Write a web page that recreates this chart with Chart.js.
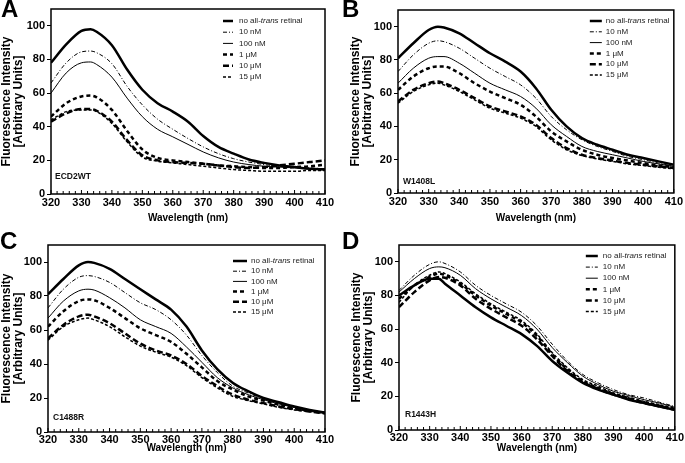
<!DOCTYPE html>
<html>
<head>
<meta charset="utf-8">
<script src="https://cdn.jsdelivr.net/npm/chart.js"></script>
<style>
  body { margin: 0; background: #fff; width: 685px; height: 463px; position: relative; overflow: hidden;
         font-family: "Liberation Sans", Arial, sans-serif; }
  .panel { position: absolute; }
  .letter { position: absolute; font-weight: bold; font-size: 24px; line-height: 24px; color: #000; }
</style>
</head>
<body>
<div class="panel" style="left:0;top:0;width:340px;height:232px"><canvas id="chartA"></canvas></div>
<div class="panel" style="left:340px;top:0;width:345px;height:232px"><canvas id="chartB"></canvas></div>
<div class="panel" style="left:0;top:232px;width:340px;height:231px"><canvas id="chartC"></canvas></div>
<div class="panel" style="left:340px;top:232px;width:345px;height:231px"><canvas id="chartD"></canvas></div>
<div class="letter" style="left:1px;top:-3px">A</div>
<div class="letter" style="left:342px;top:-3px">B</div>
<div class="letter" style="left:0px;top:229px">C</div>
<div class="letter" style="left:342px;top:229px">D</div>
<script>
// wavelengths (nm) shared by every spectrum
const wavelengths = [320, 325, 330, 333, 335, 340, 345, 350, 355, 360, 365, 370, 375, 380, 385, 390, 395, 400, 405, 410];
const legendLabels = ["no all-trans retinal", "10 nM", "100 nM", "1 μM", "10 μM", "15 μM"];
const sampleNames = ["ECD2WT", "W1408L", "C1488R", "R1443H"];

// A - ECD2WT
const aNone = [78, 89, 97, 98, 96.5, 88.5, 74, 62, 54, 49, 43, 34.5, 28, 24, 20.5, 18.5, 17, 16, 15, 14.5];
const a10nM = [66, 78, 84.5, 85, 84, 77.5, 64, 53, 44.5, 38.5, 33, 28, 24, 21, 19, 17.5, 16.5, 16, 15.5, 15];
const a100nM = [60, 72, 78, 78.5, 77, 69.5, 57, 46, 38.5, 34, 29.5, 25, 21.5, 19, 17.5, 16.5, 16, 15.5, 15, 15];
const a1uM = [46, 54, 58, 58.5, 57.5, 50, 37.5, 26.5, 21.5, 20, 19, 18, 17, 16.5, 16, 15.5, 15.5, 16, 16.5, 17.5];
const a10uM = [43, 48, 50.5, 50.5, 49.5, 43, 32, 23, 20, 19, 18.5, 18, 17, 16, 15.5, 16, 17, 18, 19, 20];
const a15uM = [44, 49, 50, 50, 49, 42, 31, 22, 19.5, 18.5, 17.5, 16.5, 15.5, 14.5, 14, 13.5, 13.5, 13.5, 14, 14];

// B - W1408L
const bNone = [81, 90, 98, 100, 99.5, 96, 90, 84, 79, 73, 63, 50, 40, 33, 29, 26, 23, 21, 19, 17];
const b10nM = [73, 83, 90, 91.5, 91, 87, 81, 75, 70, 65, 57, 46, 38, 32, 28, 25, 22, 20, 18, 16];
const b100nM = [66, 75, 81, 82, 82, 78, 72, 66, 62, 58, 51, 41, 34, 28, 25, 23, 21, 19, 17.5, 16];
const b1uM = [62, 70, 75, 76, 76, 72, 66, 61, 57, 53, 46, 37, 31, 26, 23, 21, 19.5, 18, 16.5, 15.5];
const b10uM = [55, 62, 66, 67, 66, 62, 57, 52, 49, 46, 41, 33, 27, 23, 21, 19.5, 18, 17, 16, 15];
const b15uM = [54, 61, 65, 66, 65, 61, 56, 51, 48, 45, 40, 32, 26, 22.5, 20.5, 19, 17.5, 16.5, 15.5, 14.5];

// C - C1488R
const cNone = [81, 90, 98, 100, 99.5, 96, 90, 84, 78, 72, 62, 48, 37, 29, 24, 20, 17.5, 15, 13, 11.5];
const c10nM = [73, 84, 91, 92, 91.5, 88, 82, 76, 72, 66, 57, 45, 35, 27, 23, 19.5, 17, 14.5, 13, 11.5];
const c100nM = [67, 77, 83, 84, 83.5, 79, 73, 66, 62, 58, 50, 41, 32, 26, 22, 19, 16.5, 14.5, 12.5, 11];
const c1uM = [62, 71, 77, 78, 77.5, 73, 67, 61, 57, 53, 46, 38, 30, 25, 21, 18.5, 16, 14, 12.5, 11];
const c10uM = [55, 63, 68, 69, 68, 64, 58, 52, 48, 45, 40, 33, 27, 22, 19, 17, 15, 13.5, 12, 11];
const c15uM = [54, 62, 66, 67, 66, 62, 56, 50.5, 47, 44, 39, 32, 26, 21, 18.5, 16.5, 14.5, 13, 12, 11];

// D - R1443H
const dNone = [80, 86, 90, 90, 87, 80, 73, 67, 62, 57, 50, 41, 34, 28, 24, 21, 18, 16, 14, 12];
const d10nM = [83, 92, 98.5, 100, 99, 94, 86, 80, 75, 70, 62, 51, 41, 33, 28, 24, 21, 19, 16.5, 14];
const d100nM = [82, 90, 96, 97, 96.5, 92, 84, 78, 73, 68, 60, 49, 40, 32, 27, 23, 20.5, 18, 16, 13.5];
const d1uM = [78, 86, 91, 93, 92, 87, 80, 74, 69, 64, 56, 45, 36, 29, 25, 21.5, 19, 16.5, 14.5, 12.5];
const d10uM = [73, 82, 89, 91, 90.5, 86, 78, 72, 67, 62, 54, 44, 35, 28.5, 24.5, 21, 18.5, 16, 14, 12];
const d15uM = [76, 86, 92, 94, 93, 88, 81, 75, 70, 65, 57, 46, 37, 30, 26, 22, 19.5, 17, 15, 13];

// line look of each series, same order as legendLabels
const lineStyles = [
  { width: 2.5, dash: [] },
  { width: 1, dash: [4, 2, 1, 2] },
  { width: 1, dash: [] },
  { width: 2.5, dash: [4, 3] },
  { width: 2.5, dash: [6, 3] },
  { width: 1.5, dash: [3, 2] }
];

Chart.defaults.font.family = '"Liberation Sans", Arial, sans-serif';
Chart.defaults.color = "#000";

// frame, inward x ticks, sample name and legend
const panelDecor = {
  id: "panelDecor",
  afterDraw(chart, args, o) {
    const { ctx, chartArea: a } = chart;
    const x = chart.scales.x;
    ctx.save();
    ctx.strokeStyle = "#000";
    ctx.lineWidth = 1.5;
    ctx.strokeRect(a.left, a.top, a.right - a.left, a.bottom - a.top);

    ctx.lineWidth = 1;
    for (let w = 320; w <= 410; w += 2) {
      const px = x.getPixelForValue(w);
      ctx.beginPath();
      ctx.moveTo(px, a.bottom);
      ctx.lineTo(px, a.bottom - (w % 10 === 0 ? 4 : 3));
      ctx.stroke();
    }

    ctx.fillStyle = "#111";
    ctx.font = 'bold 8.5px "Liberation Sans", Arial, sans-serif';
    ctx.textBaseline = "middle";
    ctx.fillText(o.sample, a.left + o.sampleDx, a.bottom - o.sampleDy);

    const lx = a.right - o.offset;
    chart.data.datasets.forEach((ds, i) => {
      const y = a.top + o.top + i * o.row;
      ctx.setLineDash(ds.borderDash);
      ctx.lineWidth = ds.borderWidth;
      ctx.strokeStyle = "#000";
      ctx.beginPath();
      ctx.moveTo(lx, y);
      ctx.lineTo(lx + o.len, y);
      ctx.stroke();
      ctx.setLineDash([]);
      let tx = lx + o.len + o.gap;
      ctx.fillStyle = "#222";
      ds.label.split(/(trans)/).forEach((part) => {
        ctx.font = (part === "trans" ? "italic " : "") + '8px "Liberation Sans", Arial, sans-serif';
        ctx.fillText(part, tx, y);
        tx += ctx.measureText(part).width;
      });
    });
    ctx.restore();
  }
};

function makeChart(id, seriesList, sample, lay) {
  return new Chart(document.getElementById(id), {
    type: "line",
    data: {
      datasets: seriesList.map((vals, i) => ({
        label: legendLabels[i],
        data: wavelengths.map((w, j) => ({ x: w, y: vals[j] })),
        borderColor: "#000",
        borderWidth: lineStyles[i].width,
        borderDash: lineStyles[i].dash,
        pointRadius: 0,
        cubicInterpolationMode: "monotone",
        fill: false
      }))
    },
    options: {
      responsive: true,
      maintainAspectRatio: false,
      animation: false,
      layout: { padding: lay.padding },
      plugins: {
        legend: { display: false },
        tooltip: { enabled: false },
        panelDecor: { sample: sample, ...lay.legend }
      },
      scales: {
        x: {
          type: "linear",
          min: 320,
          max: 410,
          afterFit: (s) => { s.height = lay.xHeight; },
          grid: { display: false, drawTicks: false },
          border: { display: false },
          ticks: { stepSize: 10, padding: lay.xTickPad, maxRotation: 0, autoSkip: false,
                   font: { size: 11, weight: "bold" }, callback: (v) => v },
          title: { display: true, text: "Wavelength (nm)", font: { size: 10, weight: "bold" }, padding: 0 }
        },
        y: {
          min: 0,
          max: 110,
          afterFit: (s) => { s.width = lay.yWidth; },
          grid: { drawOnChartArea: false, tickLength: 4, color: "#000", lineWidth: 1 },
          border: { display: false },
          ticks: { stepSize: 20, includeBounds: false, padding: 2, font: { size: 11, weight: "bold" } },
          title: { display: true, text: ["Fluorescence Intensity", "[Arbitrary Units]"],
                   font: { size: 12, weight: "bold", lineHeight: 1.05 }, padding: 0 }
        }
      }
    },
    plugins: [panelDecor]
  });
}

makeChart("chartA", [aNone, a10nM, a100nM, a1uM, a10uM, a15uM], sampleNames[0], {
  padding: { left: 0, top: 9, right: 15, bottom: 8 }, yWidth: 51, xHeight: 30, xTickPad: 2,
  legend: { offset: 102, len: 10, gap: 6, top: 12, row: 11.2, sampleDx: 4, sampleDy: 17 }
});
makeChart("chartB", [bNone, b10nM, b100nM, b1uM, b10uM, b15uM], sampleNames[1], {
  padding: { left: 9, top: 10, right: 10, bottom: 8 }, yWidth: 49, xHeight: 31, xTickPad: 2,
  legend: { offset: 84, len: 12, gap: 4, top: 11, row: 10.8, sampleDx: 5, sampleDy: 11 }
});
makeChart("chartC", [cNone, c10nM, c100nM, c1uM, c10uM, c15uM], sampleNames[2], {
  padding: { left: 0, top: 13, right: 15, bottom: 9 }, yWidth: 48, xHeight: 22, xTickPad: 1,
  legend: { offset: 92, len: 14, gap: 4, top: 16, row: 10.2, sampleDx: 5, sampleDy: 14 }
});
makeChart("chartD", [dNone, d10nM, d100nM, d1uM, d10uM, d15uM], sampleNames[3], {
  padding: { left: 10, top: 13, right: 10, bottom: 9 }, yWidth: 49, xHeight: 24, xTickPad: 1,
  legend: { offset: 89, len: 12, gap: 5, top: 11, row: 11.1, sampleDx: 6, sampleDy: 15 }
});
</script>
</body>
</html>
